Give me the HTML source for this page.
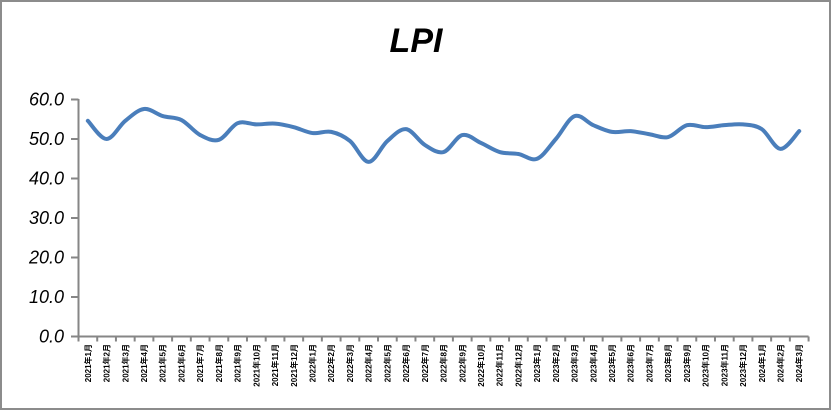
<!DOCTYPE html>
<html><head><meta charset="utf-8"><style>
html,body{margin:0;padding:0;background:#fff;}
svg{display:block;}
</style></head><body>
<svg id="s" width="832" height="412" xmlns="http://www.w3.org/2000/svg">
<rect x="1" y="1" width="829" height="408" fill="#fff" stroke="#8c8c8c" stroke-width="2"/>
<text x="416" y="52" text-anchor="middle" font-family="Liberation Sans, sans-serif" font-style="italic" font-weight="bold" font-size="34" fill="#000">LPI</text>
<g id="g"></g>
</svg>
<script>
var g=document.getElementById('g'),h='';
var y0=336.5,k=3.95,x0=78.5,w=18.72;
h+='<line x1="'+x0+'" y1="99" x2="'+x0+'" y2="337" stroke="#868686" stroke-width="2"/>';
for(var v=0;v<=60;v+=10){var y=y0-v*k;
h+='<line x1="71" y1="'+y+'" x2="'+x0+'" y2="'+y+'" stroke="#868686" stroke-width="2"/>';
h+='<text x="64" y="'+(y+6)+'" text-anchor="end" font-family="Liberation Sans, sans-serif" font-style="italic" font-size="18" fill="#000">'+v.toFixed(1)+'</text>';}
h+='<line x1="'+x0+'" y1="'+y0+'" x2="'+(x0+39*w)+'" y2="'+y0+'" stroke="#868686" stroke-width="2"/>';
var labs=[];
for(var yr=2021;yr<=2024;yr++)for(var m=1;m<=12;m++){if(yr==2024&&m>3)break;labs.push(yr+'年'+m+'月');}
for(var i=0;i<=39;i++){var x=x0+i*w;h+='<line x1="'+x+'" y1="'+y0+'" x2="'+x+'" y2="'+(y0+5)+'" stroke="#868686" stroke-width="2"/>';}
labs.forEach(function(l,i){var x=x0+(i+0.5)*w+3;
h+='<text transform="translate('+x+',344) rotate(-90)" text-anchor="end" font-family="Liberation Sans, Noto Sans CJK SC, sans-serif" font-weight="bold" font-size="8" fill="#000">'+l+'</text>';});
var d=[54.6,50,54.6,57.6,55.8,54.8,51,49.8,54,53.7,53.9,53,51.5,51.8,49.5,44.2,49.5,52.5,48.5,46.7,51,49,46.7,46.2,45,50,55.8,53.5,51.8,52,51.2,50.5,53.5,53,53.5,53.7,52.5,47.5,52];
var P=d.map(function(v,i){return [x0+(i+0.5)*w,y0-v*k];});
var p='M'+P[0][0]+','+P[0][1];
for(var i=0;i<P.length-1;i++){var a=P[i-1]||P[i],b=P[i],c=P[i+1],e=P[i+2]||c;
p+=' C'+(b[0]+(c[0]-a[0])/6)+','+(b[1]+(c[1]-a[1])/6)+' '+(c[0]-(e[0]-b[0])/6)+','+(c[1]-(e[1]-b[1])/6)+' '+c[0]+','+c[1];}
h+='<path d="'+p+'" fill="none" stroke="#4a7ebb" stroke-width="4" stroke-linecap="round" stroke-linejoin="round"/>';
g.innerHTML=h;
</script>
</body></html>
